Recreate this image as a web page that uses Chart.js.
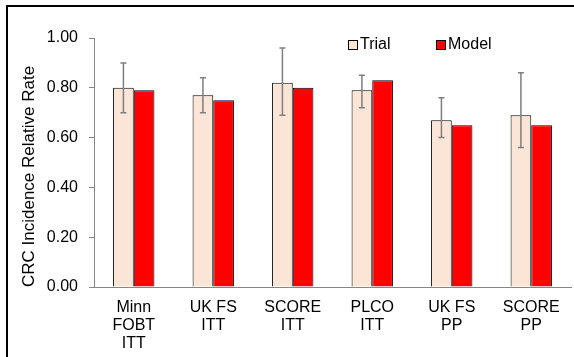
<!DOCTYPE html>
<html>
<head>
<meta charset="utf-8">
<script src="https://cdn.jsdelivr.net/npm/chart.js@4"></script>
<style>
  html, body { margin: 0; padding: 0; background: #fff; }
  #wrap { position: relative; width: 574px; height: 357px; overflow: hidden; }
  #frame { position: absolute; left: 6px; top: 5px; right: -10px; bottom: -10px;
           border-top: 2px solid #000; border-left: 2px solid #000; pointer-events: none; }
</style>
</head>
<body>
<div id="wrap">
  <canvas id="chart" width="574" height="357"></canvas>
  <div id="frame"></div>
</div>
<script>
const categories = [['Minn', 'FOBT', 'ITT'], ['UK FS', 'ITT'], ['SCORE', 'ITT'], ['PLCO', 'ITT'], ['UK FS', 'PP'], ['SCORE', 'PP']];
const trial = [0.80, 0.77, 0.82, 0.79, 0.67, 0.69];
const trialLow = [0.70, 0.70, 0.69, 0.72, 0.60, 0.56];
const trialHigh = [0.90, 0.84, 0.96, 0.85, 0.76, 0.86];
const model = [0.79, 0.75, 0.80, 0.83, 0.65, 0.65];

const FONT = 'Liberation Sans, Arial, sans-serif';

// error bars on the Trial series
const errorBars = {
    id: 'errorBars',
    afterDatasetsDraw(chart) {
        const ctx = chart.ctx;
        const meta = chart.getDatasetMeta(0);
        const y = chart.scales.y;
        ctx.save();
        ctx.strokeStyle = '#7f7f7f';
        ctx.lineWidth = 1.5;
        meta.data.forEach((bar, i) => {
            const x = bar.x;
            const yHi = y.getPixelForValue(trialHigh[i]);
            const yLo = y.getPixelForValue(trialLow[i]);
            ctx.beginPath();
            ctx.moveTo(x, yHi); ctx.lineTo(x, yLo);
            ctx.moveTo(x - 3, yHi); ctx.lineTo(x + 3, yHi);
            ctx.moveTo(x - 3, yLo); ctx.lineTo(x + 3, yLo);
            ctx.stroke();
        });
        ctx.restore();
    }
};

// legend drawn inside the plot area
const innerLegend = {
    id: 'innerLegend',
    afterDraw(chart) {
        const ctx = chart.ctx;
        const spots = [348, 436];
        ctx.save();
        ctx.font = '16px ' + FONT;
        ctx.textBaseline = 'middle';
        chart.data.datasets.forEach((ds, i) => {
            const x = spots[i];
            ctx.fillStyle = ds.backgroundColor;
            ctx.fillRect(x, 40, 10, 10);
            ctx.strokeStyle = '#000';
            ctx.lineWidth = 1;
            ctx.strokeRect(x + 0.5, 40.5, 9, 9);
            ctx.fillStyle = '#000';
            ctx.fillText(ds.label, x + 12, 45);
        });
        ctx.restore();
    }
};

new Chart(document.getElementById('chart'), {
    type: 'bar',
    data: {
        labels: categories,
        datasets: [
            { label: 'Trial', data: trial, backgroundColor: '#fbe5d6', borderColor: '#000', borderWidth: 1 },
            { label: 'Model', data: model, backgroundColor: '#ff0000', borderColor: '#000', borderWidth: 1 }
        ]
    },
    options: {
        responsive: false,
        animation: false,
        layout: { padding: { left: 0, right: 3, top: 38, bottom: 0 } },
        datasets: { bar: { categoryPercentage: 0.52, barPercentage: 1 } },
        plugins: { legend: { display: false }, tooltip: { enabled: false } },
        scales: {
            x: {
                afterFit: s => { s.height = 70; },
                grid: { display: false, drawTicks: false },
                border: { color: '#868686', width: 1 },
                ticks: { color: '#000', font: { family: FONT, size: 16, lineHeight: 1.15 }, padding: 11, maxRotation: 0 }
            },
            y: {
                min: 0, max: 1,
                afterFit: s => { s.width = 94; },
                grid: { drawOnChartArea: false, drawTicks: true, tickLength: 5, color: '#868686' },
                border: { color: '#868686', width: 1 },
                ticks: { stepSize: 0.2, color: '#000', padding: 11, font: { family: FONT, size: 16 },
                         callback: v => v.toFixed(2) },
                title: { display: true, text: 'CRC Incidence Relative Rate', color: '#000', align: 'start',
                         font: { family: FONT, size: 17 }, padding: { top: 19, bottom: 0 } }
            }
        }
    },
    plugins: [errorBars, innerLegend]
});
</script>
</body>
</html>
